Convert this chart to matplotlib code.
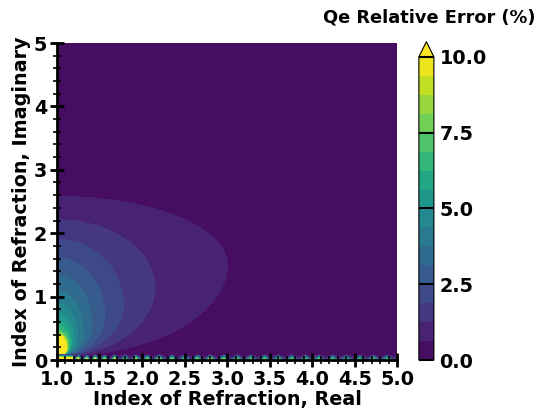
import numpy as np
import matplotlib
matplotlib.use("Agg")
import matplotlib.pyplot as plt
from matplotlib.ticker import MultipleLocator

plt.rcParams["font.family"] = ["DejaVu Sans"]
plt.rcParams["font.weight"] = "bold"

# colour levels of the error map (%), 16 bands from 0 to 10
LEVELS = np.linspace(0.0, 10.0, 17)
CBAR_TICKS = [0.0, 2.5, 5.0, 7.5, 10.0]

# contour outline per level boundary (levels 0.625 ... 10.0):
# top = imaginary index where the contour meets n_real = 1
# reach = how far the contour extends in n_real - 1
# mid = imaginary index at the point of furthest reach
CONTOUR_TOP = [2.58, 2.21, 1.90, 1.61, 1.34, 1.08, 0.90, 0.74,
               0.62, 0.54, 0.48, 0.45, 0.43, 0.41, 0.40, 0.39]
CONTOUR_REACH = [2.00, 1.15, 0.78, 0.56, 0.41, 0.31, 0.24, 0.20,
                 0.17, 0.15, 0.14, 0.13, 0.125, 0.12, 0.115, 0.11]
CONTOUR_MID = [1.50, 1.14, 0.86, 0.68, 0.55, 0.45, 0.37, 0.31,
               0.27, 0.24, 0.22, 0.21, 0.20, 0.19, 0.185, 0.18]
CONTOUR_FLOOR = 0.06

# error along the non-absorbing edge (imaginary index ~ 0)
EDGE_N = [1.00, 1.10, 1.18, 1.21, 1.25, 1.30, 1.35, 1.40, 1.45, 1.50, 1.56, 1.62,
          1.68, 1.74, 1.80, 1.86, 1.93, 2.00, 2.06, 2.13, 2.20, 2.28, 2.35, 2.43,
          2.50, 2.58, 2.65, 2.73, 2.80, 2.88, 2.96, 3.04, 3.12, 3.20, 3.28, 3.36,
          3.44, 3.52, 3.60, 3.68, 3.76, 3.84, 3.92, 4.00, 4.08, 4.16, 4.24, 4.32,
          4.40, 4.48, 4.56, 4.64, 4.72, 4.80, 4.88, 4.96, 5.00]
EDGE_ERR = [16.0, 16.0, 15.0, 3.0, 13.0, 1.5, 12.0, 1.5, 12.5, 1.5, 11.0, 1.5,
            12.0, 1.5, 10.5, 1.5, 11.0, 1.5, 10.0, 1.5, 11.5, 1.5, 10.0, 1.5,
            9.5, 1.5, 10.0, 1.5, 12.5, 1.5, 10.0, 1.5, 9.5, 1.5, 9.0, 1.5,
            9.5, 1.5, 9.0, 1.5, 9.0, 1.5, 8.5, 1.5, 9.0, 1.5, 8.5, 1.5,
            8.5, 1.5, 8.0, 1.5, 8.5, 1.5, 8.0, 1.5, 4.0]
EDGE_DEPTH = [0.0, 0.09]

n_real = np.linspace(1.0, 5.0, 900)
n_imag = np.linspace(0.0, 5.0, 900)
N, K = np.meshgrid(n_real, n_imag)
X = N - 1.0

# band index = number of level outlines enclosing each point
band = np.zeros_like(N)
for top, reach, mid in zip(CONTOUR_TOP, CONTOUR_REACH, CONTOUR_MID):
    half = np.where(K >= mid, top - mid, mid - CONTOUR_FLOOR)
    inside = (X / reach) ** 2 + ((K - mid) / half) ** 2 <= 1.0
    band += inside
step = LEVELS[1] - LEVELS[0]
err = band * step + step / 2

cmap = plt.get_cmap("viridis")

fig = plt.figure(figsize=(5.37, 4.16), dpi=100)
ax = fig.add_axes([0.106, 0.1346, 0.634, 0.762])
cs = ax.contourf(N, K, err, levels=LEVELS, cmap=cmap, extend="max")

edge = np.array([EDGE_ERR, np.zeros(len(EDGE_ERR))])
ax.contourf(EDGE_N, EDGE_DEPTH, edge, levels=LEVELS[1:], cmap=cmap,
            norm=cs.norm, extend="max")

ax.set_xlim(1.0, 5.0)
ax.set_ylim(0.0, 5.0)
ax.xaxis.set_major_locator(MultipleLocator(0.5))
ax.xaxis.set_minor_locator(MultipleLocator(0.1))
ax.yaxis.set_major_locator(MultipleLocator(1))
ax.yaxis.set_minor_locator(MultipleLocator(0.2))
ax.xaxis.set_major_formatter(plt.FormatStrFormatter("%.1f"))
ax.yaxis.set_major_formatter(plt.FormatStrFormatter("%d"))
ax.tick_params(which="major", direction="inout", length=10, width=2,
               labelsize=13.8, pad=2)
ax.tick_params(which="minor", direction="inout", length=6, width=1.2)
ax.tick_params(top=False, right=False, which="both")
for side in ("top", "right"):
    ax.spines[side].set_visible(False)
for side in ("left", "bottom"):
    ax.spines[side].set_linewidth(2)
ax.set_xlabel("Index of Refraction, Real", fontsize=13.8, fontweight="bold", labelpad=1)
ax.set_ylabel("Index of Refraction, Imaginary", fontsize=13.8, fontweight="bold", labelpad=2)

cax = fig.add_axes([0.780, 0.1346, 0.028, 0.765])
cb = fig.colorbar(cs, cax=cax, ticks=CBAR_TICKS, extendfrac=0.05)
cb.ax.yaxis.set_major_formatter(plt.FormatStrFormatter("%.1f"))
cb.ax.tick_params(direction="in", length=10.8, width=1.5, labelsize=13.8, pad=4)
cb.outline.set_linewidth(0.8)
fig.text(0.80, 0.957, "Qe Relative Error (%)", fontsize=12.8, fontweight="bold",
         ha="center", va="center")

fig.savefig("out.png", dpi=100)
